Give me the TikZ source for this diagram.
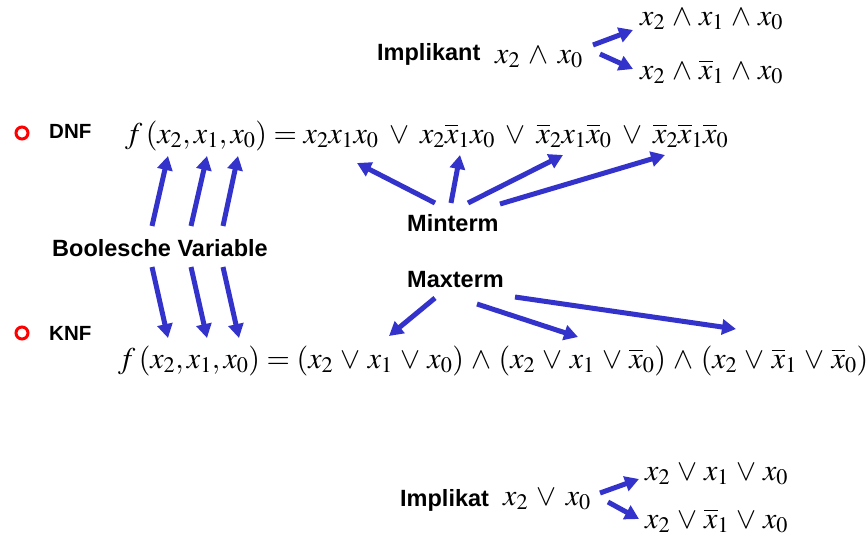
\documentclass[tikz,border=0pt]{standalone}
\usepackage{mathptmx}
\usepackage[no-math]{fontspec}
\setsansfont{Liberation Sans}
\usetikzlibrary{arrows.meta}
\definecolor{arrblue}{RGB}{51,51,204}
\definecolor{bulletred}{RGB}{255,0,0}
\newcommand\mfS[1]{$\medmuskip=5.3mu\relax #1$}
\newcommand\mfR[1]{$\medmuskip=4.2mu\relax #1$}
\newcommand\mfD[1]{$\medmuskip=6.5mu\relax #1$}
\newcommand\mfK[1]{$\medmuskip=4.4mu\relax #1$}
\tikzset{
  lbl/.style={font=\sffamily\bfseries\fontsize{23.5}{27}\selectfont, inner sep=0pt, anchor=base west},
  hdr/.style={font=\sffamily\bfseries\fontsize{20.5}{24}\selectfont, inner sep=0pt, anchor=base west},
  frm/.style={font=\fontsize{30}{34}\selectfont, inner sep=0pt, anchor=base west},
  barr/.style={draw=arrblue, line width=5pt, -{Triangle[length=14pt,width=15pt]}},
  ring/.style={circle, draw=bulletred, line width=3pt, minimum size=12pt, inner sep=0pt}
}
\begin{document}
\begin{tikzpicture}[x=1pt,y=-1pt]
\useasboundingbox (0,0) rectangle (867,542);
% top implikant
\node[lbl] (impl) at (377,60) {Implikant};
\node[frm] (ia) at (495,63) {\mfS{x_2\wedge x_0}};
\node[frm] (ib) at (640,25) {\mfR{x_2\wedge x_1\wedge x_0}};
\node[frm] (ic) at (640,79) {\mfR{x_2\wedge \overline{x}_1\wedge x_0}};
\coordinate (ia1) at (593,45);
\coordinate (ib1) at (633,30);
\coordinate (ia2) at (600,54);
\coordinate (ic1) at (633,69);
\draw[barr] (ia1) -- (ib1);
\draw[barr] (ia2) -- (ic1);
% DNF
\node[ring] (b1) at (22,133) {};
\node[hdr] (dnf) at (49,138) {DNF};
\node[frm] (fd) at (125,143) {\mfD{f\,(x_2,x_1,x_0)=x_2x_1x_0\vee x_2\overline{x}_1x_0\vee \overline{x}_2x_1\overline{x}_0\vee \overline{x}_2\overline{x}_1\overline{x}_0}};
% Boolesche Variable
\node[lbl] (bv) at (52,256) {Boolesche Variable};
\coordinate (u1s) at (152,226); \coordinate (u1e) at (168,156);
\coordinate (u2s) at (191,226); \coordinate (u2e) at (207,156);
\coordinate (u3s) at (223,226); \coordinate (u3e) at (238,156);
\draw[barr] (u1s) -- (u1e);
\draw[barr] (u2s) -- (u2e);
\draw[barr] (u3s) -- (u3e);
\coordinate (d1s) at (152,267); \coordinate (d1e) at (168,338);
\coordinate (d2s) at (191,267); \coordinate (d2e) at (207,338);
\coordinate (d3s) at (223,267); \coordinate (d3e) at (239,338);
\draw[barr] (d1s) -- (d1e);
\draw[barr] (d2s) -- (d2e);
\draw[barr] (d3s) -- (d3e);
% Minterm
\node[lbl] (mint) at (407,231) {Minterm};
\coordinate (m1s) at (435,203); \coordinate (m1e) at (357,163);
\coordinate (m2s) at (451,203); \coordinate (m2e) at (460,155);
\coordinate (m3s) at (468,203); \coordinate (m3e) at (563,155);
\coordinate (m4s) at (500,204); \coordinate (m4e) at (665,155);
\draw[barr] (m1s) -- (m1e);
\draw[barr] (m2s) -- (m2e);
\draw[barr] (m3s) -- (m3e);
\draw[barr] (m4s) -- (m4e);
% Maxterm
\node[lbl] (maxt) at (407,287) {Maxterm};
\coordinate (x1s) at (435,298); \coordinate (x1e) at (389,336);
\coordinate (x2s) at (477,304); \coordinate (x2e) at (578,337);
\coordinate (x3s) at (515,297); \coordinate (x3e) at (736,329);
\draw[barr] (x1s) -- (x1e);
\draw[barr] (x2s) -- (x2e);
\draw[barr] (x3s) -- (x3e);
% KNF
\node[ring] (b2) at (22,333) {};
\node[hdr] (knf) at (49,340) {KNF};
\node[frm] (fk) at (118,368) {\mfK{f\,(x_2,x_1,x_0)=(x_2\vee x_1\vee x_0)\wedge(x_2\vee x_1\vee \overline{x}_0)\wedge(x_2\vee \overline{x}_1\vee \overline{x}_0)}};
% bottom implikat
\node[lbl] (implt) at (400,506) {Implikat};
\node[frm] (ja) at (503,505) {\mfS{x_2\vee x_0}};
\node[frm] (jb) at (645,480) {\mfR{x_2\vee x_1\vee x_0}};
\node[frm] (jc) at (645,528) {\mfR{x_2\vee \overline{x}_1\vee x_0}};
\coordinate (ja1) at (600,493);
\coordinate (jb1) at (639,479);
\coordinate (ja2) at (608,502);
\coordinate (jc1) at (639,519);
\draw[barr] (ja1) -- (jb1);
\draw[barr] (ja2) -- (jc1);
\end{tikzpicture}
\end{document}
